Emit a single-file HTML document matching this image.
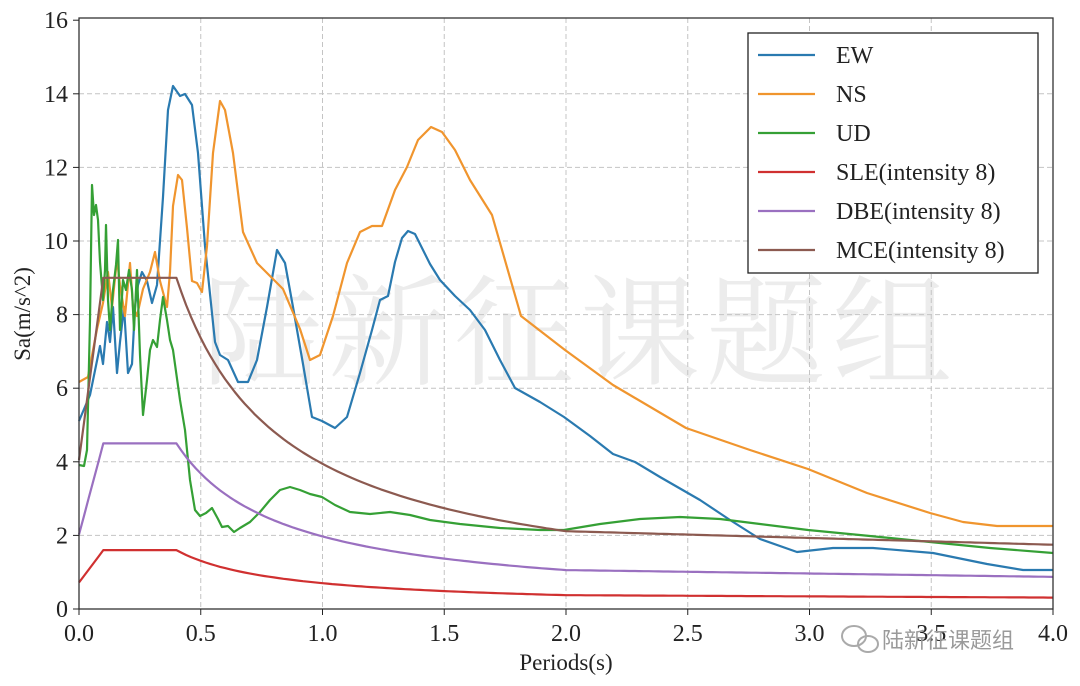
<!DOCTYPE html>
<html><head><meta charset="utf-8"><style>
html,body{margin:0;padding:0;background:#fff;}
svg{display:block;font-family:"Liberation Serif",serif;}
</style></head><body>
<svg id="s" width="1080" height="686" viewBox="0 0 1080 686" xmlns="http://www.w3.org/2000/svg">
<rect width="1080" height="686" fill="#fff"/>
<text x="580" y="375" font-family="'Noto Serif CJK SC','Noto Sans CJK SC',serif" font-size="120" fill="#ececec" text-anchor="middle" letter-spacing="6">陆新征课题组</text>
<g id="grid" stroke="#c4c4c4" stroke-dasharray="5,3" stroke-width="1"></g>
<g id="series" fill="none" stroke-width="2.2" stroke-linejoin="round"></g>
<rect x="79" y="18" width="974" height="591" fill="none" stroke="#333" stroke-width="1.3"/>
<g id="ticks" font-size="24" fill="#222"></g>
<text x="566" y="670" font-size="23" text-anchor="middle" fill="#222">Periods(s)</text>
<text transform="translate(30,314) rotate(-90)" font-size="23" text-anchor="middle" fill="#222">Sa(m/s^2)</text>
<rect x="748" y="33" width="290" height="240" fill="#fff" stroke="#222" stroke-width="1.3"/>
<g font-size="24" fill="#222">
<line x1="758" y1="55" x2="815" y2="55" stroke="#2a7ab0" stroke-width="2.2"/><text x="836" y="63">EW</text>
<line x1="758" y1="94" x2="815" y2="94" stroke="#f0952e" stroke-width="2.2"/><text x="836" y="102">NS</text>
<line x1="758" y1="133" x2="815" y2="133" stroke="#35a035" stroke-width="2.2"/><text x="836" y="141">UD</text>
<line x1="758" y1="172" x2="815" y2="172" stroke="#d03030" stroke-width="2.2"/><text x="836" y="180">SLE(intensity 8)</text>
<line x1="758" y1="211" x2="815" y2="211" stroke="#9a70c0" stroke-width="2.2"/><text x="836" y="219">DBE(intensity 8)</text>
<line x1="758" y1="250" x2="815" y2="250" stroke="#8c5a50" stroke-width="2.2"/><text x="836" y="258">MCE(intensity 8)</text>
</g>
<g fill="#9a9a9a">
<ellipse cx="854" cy="636" rx="12" ry="10" fill="none" stroke="#aaa" stroke-width="2"/>
<ellipse cx="868" cy="644" rx="10" ry="8" fill="none" stroke="#aaa" stroke-width="2"/>
<text x="882" y="648" font-family="'Noto Sans CJK SC',sans-serif" font-size="22">陆新征课题组</text>
</g>
</svg>
<script>
var X=t=>79+243.5*t, Y=v=>609-36.8*v;
var g=document.getElementById('grid'),tk=document.getElementById('ticks'),ns='http://www.w3.org/2000/svg';
function el(p,n,a,txt){var e=document.createElementNS(ns,n);for(var k in a)e.setAttribute(k,a[k]);if(txt!=null)e.textContent=txt;p.appendChild(e);return e;}
for(var i=0;i<=8;i++){var x=X(i*0.5);if(i>0&&i<8)el(g,'line',{x1:x,y1:18,x2:x,y2:609});el(tk,'line',{x1:x,y1:609,x2:x,y2:615,stroke:'#222'});el(tk,'text',{x:x,y:641,'text-anchor':'middle'},(i*0.5).toFixed(1));}
for(var j=0;j<=16;j+=2){var y=Y(j);if(j>0&&j<16)el(g,'line',{x1:79,y1:y,x2:1053,y2:y});el(tk,'line',{x1:73,y1:y,x2:79,y2:y,stroke:'#222'});el(tk,'text',{x:68,y:y+8,'text-anchor':'end'},j);}
var S=document.getElementById('series');
function pl(pts,c){el(S,'polyline',{points:pts.map(p=>p.join(',')).join(' '),stroke:c});}
function design(a){var p=[];for(var t=0;t<=4.0001;t+=0.02){var v;if(t<=0.1)v=0.45*a+(a-0.45*a)*t/0.1;else if(t<=0.4)v=a;else if(t<=2.0)v=a*Math.pow(0.4/t,0.9);else{var v2=a*Math.pow(0.2,0.9);v=v2-(v2-a*0.194)*(t-2)/2;}p.push([X(t).toFixed(1),Y(v).toFixed(1)]);}return p;}
var EW=[[79,421],[90,395],[100,346],[103,364],[107,322],[110,342],[113,307],[117,373],[120,342],[124,307],[128,373],[132,364],[135,307],[138,285],[142,272],[147,281],[152,303],[157,285],[163,197],[168,110],[173,86],[180,96],[185,94],[192,105],[198,153],[205,246],[215,342],[220,355],[228,360],[238,382],[248,382],[257,360],[267,307],[277,250],[285,263],[293,307],[303,364],[312,417],[322,421],[335,428],[347,417],[360,373],[372,330],[380,300],[388,296],[395,262],[402,238],[408,231],[415,234],[422,248],[430,264],[440,280],[455,296],[470,310],[485,330],[500,360],[515,388],[540,402],[564,417],[590,436],[613,454],[635,462],[660,477],[700,500],[730,520],[760,539],[797,552],[833,548],[873,548],[933,553],[987,564],[1023,570],[1053,570]];
var NS=[[79,382],[88,377],[97,329],[103,303],[108,272],[112,307],[117,259],[120,285],[125,316],[130,263],[133,307],[137,316],[143,289],[150,272],[155,252],[160,281],[167,307],[170,272],[173,206],[178,175],[182,180],[187,228],[192,281],[197,283],[202,292],[207,246],[213,153],[220,101],[225,110],[233,153],[243,232],[257,263],[270,276],[283,289],[300,329],[310,360],[320,355],[333,316],[347,263],[360,232],[372,226],[382,226],[395,190],[407,167],[418,140],[431,127],[442,132],[455,150],[470,180],[492,215],[521,316],[565,350],[613,385],[686,428],[750,450],[808,469],[867,493],[930,513],[963,522],[997,526],[1053,526]];
var UD=[[79,465],[84,466],[87,450],[90,320],[92,185],[94,215],[96,205],[98,220],[100,262],[103,300],[105,270],[106,225],[108,300],[110,330],[113,290],[116,265],[118,240],[120,330],[123,280],[126,290],[129,270],[132,290],[134,330],[137,270],[140,355],[143,415],[147,380],[150,350],[153,340],[157,347],[160,320],[163,297],[167,320],[170,340],[173,350],[180,400],[185,430],[190,480],[195,510],[200,516],[206,513],[212,508],[218,519],[222,527],[228,526],[234,532],[240,528],[250,522],[260,512],[270,500],[280,490],[290,487],[300,490],[310,494],[322,497],[335,505],[350,512],[370,514],[390,512],[410,515],[430,520],[460,524],[500,528],[540,530],[564,530],[600,524],[640,519],[680,517],[720,519],[760,524],[808,530],[870,536],[930,542],[990,548],[1053,553]];
pl(EW,'#2a7ab0');pl(NS,'#f0952e');pl(UD,'#35a035');
pl(design(1.6),'#d03030');pl(design(4.5),'#9a70c0');pl(design(9),'#8c5a50');
</script>
</body></html>
